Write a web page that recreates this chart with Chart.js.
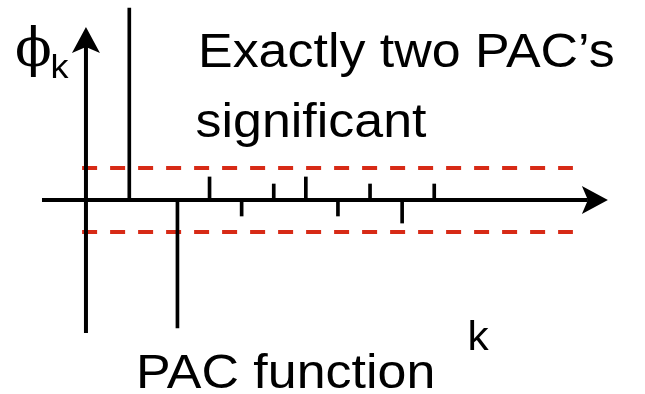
<!DOCTYPE html>
<html>
<head>
<meta charset="utf-8">
<title>PAC function</title>
<script src="https://cdn.jsdelivr.net/npm/chart.js@4.4.1/dist/chart.umd.min.js"></script>
<style>
  html, body { margin: 0; padding: 0; background: #fff; }
  #wrap { position: relative; width: 645px; height: 394px; }
</style>
</head>
<body>
<div id="wrap"><canvas id="pac" width="645" height="394"></canvas></div>
<script>
// partial autocorrelations by lag (schematic AR(2) picture)
var lags = [1, 2.5, 3.5, 4.5, 5.5, 6.5, 7.5, 8.5, 9.5, 10.5];
var pacValues = [6.0, -4.0, 0.72, -0.5, 0.5, 0.72, -0.5, 0.5, -0.72, 0.5];
var bandLimit = 1;              // ± significance band
var bandFrom = -0.47, bandTo = 14.82;

// axis extents (data units)
var kAxisFrom = -1.72, kAxisTip = 15.91;
var phiAxisX = -0.35, phiAxisFrom = -4.16, phiAxisTip = 5.41;
var kMin = -3.028, kMax = 17.066, yMin = -6.0625, yMax = 6.25;

var RED = '#d72a16';
var SANS = '"Liberation Sans", Arial, sans-serif';
var STRETCH = 1.06;

function seg(x0, y0, x1, y1) { return [{ x: x0, y: y0 }, { x: x1, y: y1 }]; }

// stealth-style arrowhead: tip at (tx,ty), pointing along (dx,dy)
function arrowHead(ctx, tx, ty, dx, dy) {
  var len = 26, half = 14, notch = 6;
  var px = -dy, py = dx;
  ctx.beginPath();
  ctx.moveTo(tx, ty);
  ctx.lineTo(tx - dx * len + px * half, ty - dy * len + py * half);
  ctx.lineTo(tx - dx * (len - notch), ty - dy * (len - notch));
  ctx.lineTo(tx - dx * len - px * half, ty - dy * len - py * half);
  ctx.closePath();
  ctx.fillStyle = '#000';
  ctx.fill();
}

function label(ctx, text, x, y, font) {
  ctx.save();
  ctx.translate(x, y);
  ctx.scale(STRETCH, 1);
  ctx.font = font;
  ctx.fillStyle = '#000';
  ctx.textBaseline = 'alphabetic';
  ctx.fillText(text, 0, 0);
  ctx.restore();
}

var decor = {
  id: 'decor',
  afterDatasetsDraw: function (chart) {
    var ctx = chart.ctx, sx = chart.scales.x, sy = chart.scales.y;
    arrowHead(ctx, sx.getPixelForValue(kAxisTip), sy.getPixelForValue(0), 1, 0);
    arrowHead(ctx, sx.getPixelForValue(phiAxisX), sy.getPixelForValue(phiAxisTip), 0, -1);

    label(ctx, 'Exactly two PAC’s', 198, 67, '49px ' + SANS);
    label(ctx, 'significant', 195.5, 137, '49px ' + SANS);
    label(ctx, 'PAC function', 136, 388, '49px ' + SANS);
    label(ctx, 'k', 467.5, 350, '40px ' + SANS);

    // φ with subscript k
    ctx.save();
    ctx.font = '56px "DejaVu Serif", serif';
    ctx.fillStyle = '#000';
    ctx.textBaseline = 'alphabetic';
    var m = ctx.measureText('ϕ');
    var h = m.actualBoundingBoxAscent + m.actualBoundingBoxDescent;
    var s = 53 / h;
    ctx.translate(33.5, 25 + m.actualBoundingBoxAscent * s);
    ctx.scale(s, s);
    ctx.textAlign = 'center';
    ctx.fillText('ϕ', 0, 0);
    ctx.restore();
    label(ctx, 'k', 50.5, 78, '34px ' + SANS);
  }
};

var kAxisEnd = kAxisTip - 20 / 32.1;
var phiAxisEnd = phiAxisTip - 20 / 32;

new Chart(document.getElementById('pac'), {
  type: 'bar',
  data: {
    datasets: [
      { type: 'line', data: seg(kAxisFrom, 0, kAxisEnd, 0), borderColor: '#000', borderWidth: 4, pointRadius: 0, order: 1 },
      { type: 'line', data: seg(phiAxisX, phiAxisFrom, phiAxisX, phiAxisEnd), borderColor: '#000', borderWidth: 4, pointRadius: 0, order: 1 },
      {
        type: 'bar',
        data: lags.map(function (k, i) { return { x: k, y: pacValues[i] }; }),
        backgroundColor: '#000', barThickness: 3, order: 2
      },
      { type: 'line', data: seg(bandFrom, bandLimit, bandTo, bandLimit), borderColor: RED, borderWidth: 4, borderDash: [15, 13], pointRadius: 0, order: 3 },
      { type: 'line', data: seg(bandFrom, -bandLimit, bandTo, -bandLimit), borderColor: RED, borderWidth: 4, borderDash: [15, 13], pointRadius: 0, order: 3 }
    ]
  },
  options: {
    responsive: false,
    animation: false,
    devicePixelRatio: 1,
    layout: { padding: 0 },
    plugins: { legend: { display: false }, tooltip: { enabled: false } },
    scales: {
      x: { type: 'linear', offset: false, min: kMin, max: kMax, display: false },
      y: { type: 'linear', min: yMin, max: yMax, display: false }
    }
  },
  plugins: [decor]
});
</script>
</body>
</html>
